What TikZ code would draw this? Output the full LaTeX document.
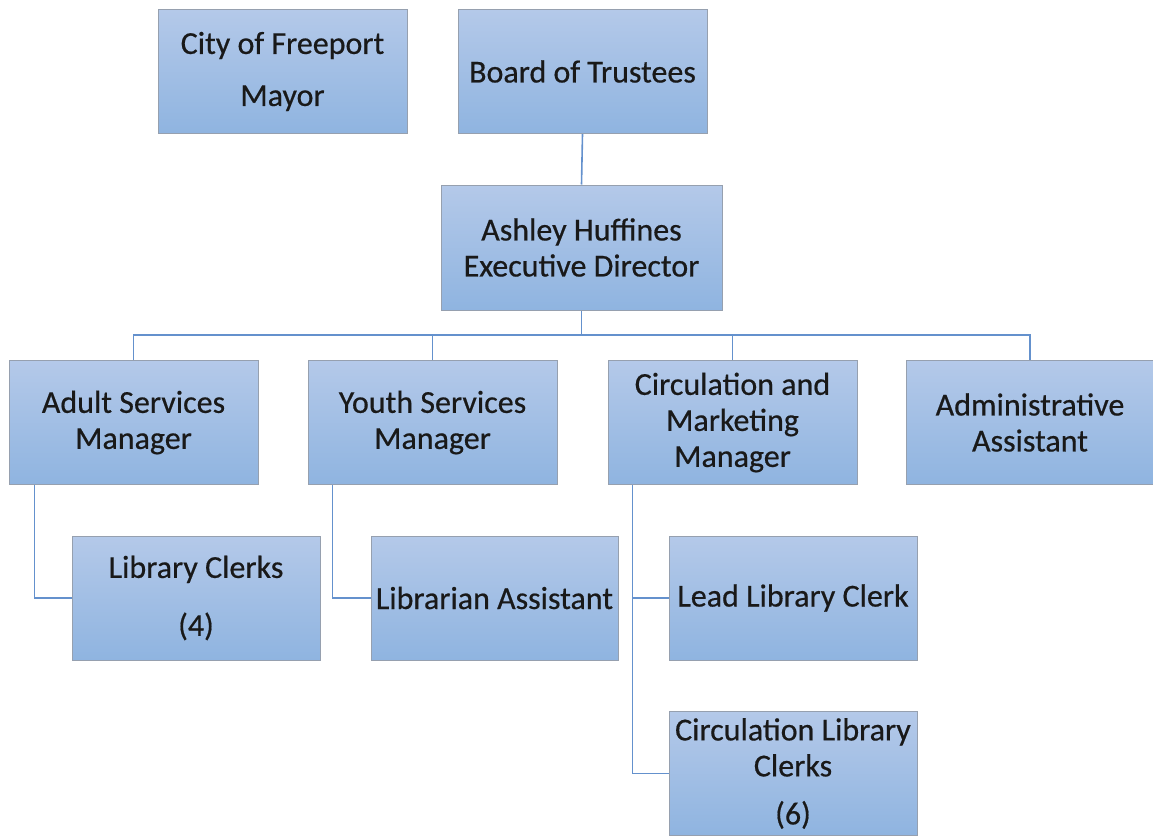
\documentclass[tikz,border=0pt]{standalone}
\usepackage{fontspec}
\setmainfont{Carlito}
\newfontfamily\boxfont{Carlito}[FakeBold=0.5]
\definecolor{boxtop}{RGB}{180,201,233}
\definecolor{boxbot}{RGB}{143,180,224}
\definecolor{boxline}{RGB}{150,160,175}
\definecolor{connline}{RGB}{100,145,205}
\begin{document}
\begin{tikzpicture}[x=1pt,y=-1pt,
  orgbox/.style={draw=boxline, line width=1pt, top color=boxtop, bottom color=boxbot,
    minimum width=249pt, minimum height=124pt, inner sep=0pt, align=center,
    font=\boxfont\fontsize{32}{36}\selectfont, text=black!90},
  conn/.style={draw=connline, line width=1.6pt}]
\useasboundingbox (0,0) rectangle (1153,835);
\node[orgbox] (mayor) at (282.5,71.5) {City of Freeport\\[16pt]Mayor};
\node[orgbox] (board) at (582.5,71.5) {Board of Trustees};
\node[orgbox, minimum width=281pt, minimum height=125pt] (exec) at (581.5,247.5) {Ashley Huffines\\Executive Director};
\node[orgbox] (adult) at (133.5,422.5) {Adult Services\\Manager};
\node[orgbox] (youth) at (432.5,422.5) {Youth Services\\Manager};
\node[orgbox] (circ) at (732.5,422.5) {Circulation and\\Marketing\\Manager};
\node[orgbox, minimum width=248pt] (admin) at (1030,422.5) {Administrative\\Assistant};
\node[orgbox, minimum width=248pt] (clerks) at (196,598) {Library Clerks\\[22pt](4)};
\node[orgbox, minimum width=247pt] (libasst) at (494.5,598) {Librarian Assistant};
\node[orgbox, minimum width=248pt] (lead) at (793,598) {Lead Library Clerk};
\node[orgbox, minimum width=248pt] (cclerks) at (793,773.5) {Circulation Library\\Clerks\\[12pt](6)};
\coordinate (bus) at (581.5,335);
\coordinate (av) at ([xshift=26pt]adult.south west);
\coordinate (yv) at ([xshift=25pt]youth.south west);
\coordinate (cv) at ([xshift=25pt]circ.south west);
\draw[conn] (board.south) -- (exec.north);
\draw[conn] (exec.south) -- (bus);
\draw[conn] (adult.north) |- (admin.north |- bus) -- (admin.north);
\draw[conn] (youth.north) -- (youth.north |- bus);
\draw[conn] (circ.north) -- (circ.north |- bus);
\draw[conn] (av) |- (clerks.west);
\draw[conn] (yv) |- (libasst.west);
\draw[conn] (cv) |- (cclerks.west);
\draw[conn] (cv |- lead.west) -- (lead.west);
\end{tikzpicture}
\end{document}
